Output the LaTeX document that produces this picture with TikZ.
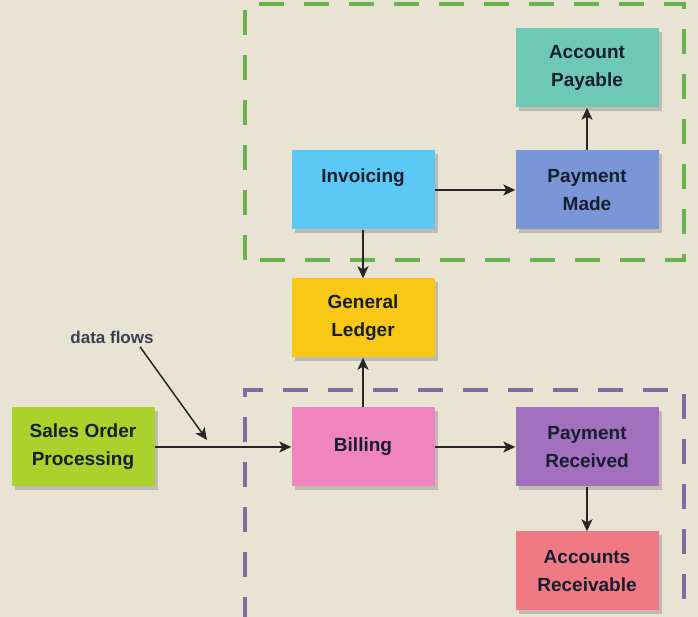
\documentclass[tikz,border=0pt]{standalone}
\usepackage{fontspec}
\setmainfont{Liberation Sans}
\usetikzlibrary{positioning,shadows,arrows.meta}
\definecolor{paper}{RGB}{233,227,212}
\definecolor{ink}{RGB}{22,30,48}
\definecolor{payablecol}{RGB}{110,200,182}
\definecolor{invoicecol}{RGB}{92,200,244}
\definecolor{madecol}{RGB}{122,150,214}
\definecolor{ledgercol}{RGB}{249,200,22}
\definecolor{salescol}{RGB}{170,210,42}
\definecolor{billingcol}{RGB}{240,132,190}
\definecolor{receivedcol}{RGB}{162,112,190}
\definecolor{receivablecol}{RGB}{240,122,132}
\definecolor{greendash}{RGB}{104,178,80}
\definecolor{purpledash}{RGB}{122,112,160}

\begin{document}
\begin{tikzpicture}[x=1pt, y=1pt,
  stage/.style = {rectangle, minimum width = 143pt, minimum height = 79pt, text = ink, align = center,
    font = \fontsize{19}{28}\selectfont\bfseries,
    drop shadow = {opacity = 0.4, shadow xshift = 3pt, shadow yshift = -4pt}},
  flow/.style = {-{Stealth[length = 12pt, width = 11pt, inset = 3pt]}, line width = 1.5pt, black!85},
  zone/.style = {line width = 3.5pt, dash pattern = on 25pt off 20pt}]
\fill[paper] (0,0) rectangle (698,617);
\useasboundingbox (0,0) rectangle (698,617);

% dashed zones
\draw[zone, greendash] (245,357) rectangle (684,613);
\draw[zone, purpledash] (245,-5) |- (684,227) -- (684,-5);

\node[stage, fill = billingcol](1) at (363,170){Billing};
\node[stage, fill = salescol, left of = 1, node distance = 280pt](0){Sales Order\\Processing};
\node[stage, fill = receivedcol, right of = 1, node distance = 224pt](2){Payment\\Received};
\node[stage, fill = receivablecol, below of = 2, node distance = 124pt](3){Accounts\\Receivable};
\node[stage, fill = ledgercol, above of = 1, node distance = 129pt](4){General\\Ledger};
\node[stage, fill = invoicecol, above of = 4, node distance = 128pt](5){Invoicing\\~};
\node[stage, fill = madecol, right of = 5, node distance = 224pt](6){Payment\\Made};
\node[stage, fill = payablecol, above of = 6, node distance = 122pt](7){Account\\Payable};

\node[text = ink!85, font = \fontsize{17}{20}\selectfont\bfseries](flows) at (112,280){data flows};
\coordinate (tip) at (207,177);

\draw[flow] (0) -- (1);
\draw[flow] (1) -- (2);
\draw[flow] (2) -- (3);
\draw[flow] (1) -- (4);
\draw[flow] (5) -- (4);
\draw[flow] (5) -- (6);
\draw[flow] (6) -- (7);
\draw[flow] ([xshift = 28pt]flows.south) -- (tip);
\end{tikzpicture}
\end{document}
